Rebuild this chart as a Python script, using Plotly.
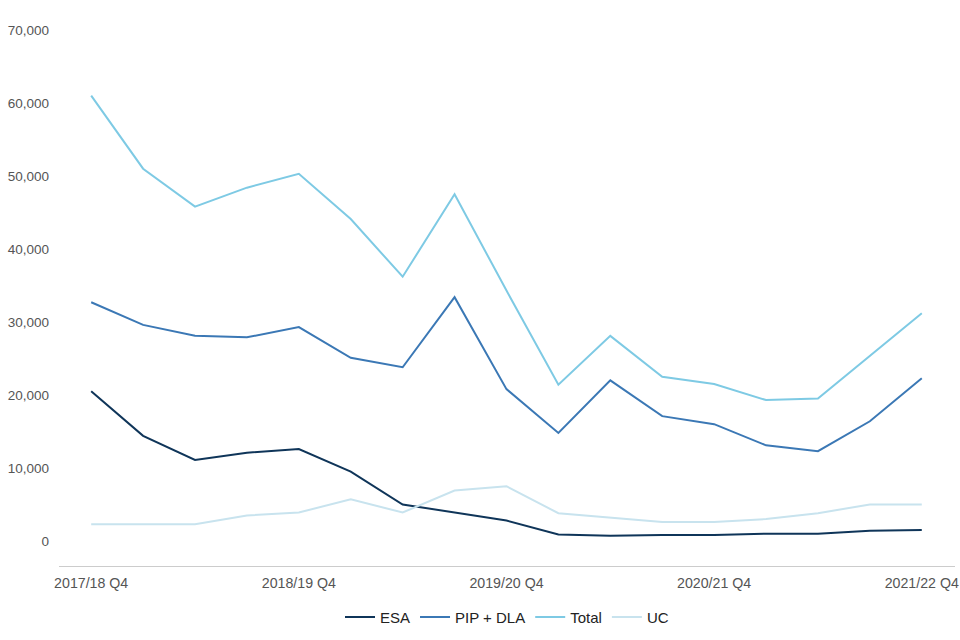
import plotly.graph_objects as go

years = ["2017/18", "2018/19", "2019/20", "2020/21", "2021/22"]
quarters = ["2017/18 Q4"]
for y in years[1:]:
    quarters += [f"{y} Q1", f"{y} Q2", f"{y} Q3", f"{y} Q4"]

esa = [20500, 14400, 11100, 12100, 12600, 9500, 5000, 3900, 2800, 900, 700, 800, 800, 1000, 1000, 1400, 1500]
pip_dla = [32700, 29600, 28100, 27900, 29300, 25100, 23800, 33400, 20800, 14800, 22000, 17100, 16000, 13100, 12300, 16400, 22300]
total = [61000, 51000, 45800, 48400, 50300, 44100, 36200, 47500, 34300, 21400, 28100, 22500, 21500, 19300, 19500, 25300, 31200]
uc = [2300, 2300, 2300, 3500, 3900, 5700, 3900, 6900, 7500, 3800, 3200, 2600, 2600, 3000, 3800, 5000, 5000]

tick_labels = ["2017/18 Q4", "2018/19 Q4", "2019/20 Q4", "2020/21 Q4", "2021/22 Q4"]

series = [("ESA", esa, "#0f3559"), ("PIP + DLA", pip_dla, "#3b78b5"),
          ("Total", total, "#7ecae4"), ("UC", uc, "#c8e3ee")]

fig = go.Figure()
xi = list(range(len(quarters)))
for name, vals, col in series:
    fig.add_trace(go.Scatter(x=xi, y=vals, name=name, mode="lines",
                             line=dict(color=col, width=2)))

font = "Liberation Sans, Arial, Helvetica, sans-serif"
fig.update_layout(
    width=960, height=640,
    paper_bgcolor="white", plot_bgcolor="white",
    margin=dict(l=59, r=5, t=30, b=74),
    font=dict(family=font, size=14, color="#555555"),
    xaxis=dict(range=[-0.62, 16.64], tickvals=[xi[quarters.index(t)] for t in tick_labels],
               ticktext=tick_labels, showgrid=False, showline=True, linecolor="#cccccc",
               linewidth=1, ticks="", zeroline=False, automargin=False,
               ticklabelstandoff=4, tickfont=dict(size=14.2, color="#555555")),
    yaxis=dict(range=[-3430, 70000], tickvals=[0, 10000, 20000, 30000, 40000, 50000, 60000, 70000],
               tickformat=",", showgrid=False, zeroline=False, showline=False, automargin=False,
               ticks="", ticklabelstandoff=9, tickfont=dict(size=13.5, color="#555555")),
    legend=dict(orientation="h", x=0.5, xanchor="center", y=-0.065, yanchor="top",
                font=dict(size=15, color="#222222"), itemwidth=30),
    showlegend=True,
)
fig.write_html("out.html", config={"displayModeBar": False},
               post_script="document.body.style.margin='0';document.body.style.overflow='hidden';")
